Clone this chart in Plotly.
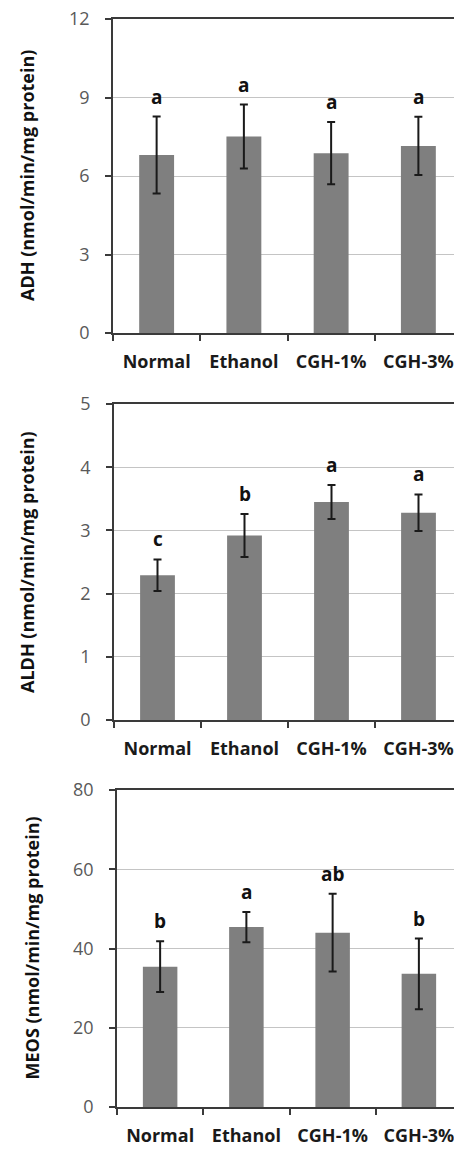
import plotly.graph_objects as go

categories = ["Normal", "Ethanol", "CGH-1%", "CGH-3%"]

adh_mean = [6.80, 7.51, 6.87, 7.15]
adh_err = [1.47, 1.22, 1.19, 1.11]
adh_letters = ["a", "a", "a", "a"]

aldh_mean = [2.29, 2.92, 3.45, 3.28]
aldh_err = [0.25, 0.34, 0.27, 0.29]
aldh_letters = ["c", "b", "a", "a"]

meos_mean = [35.4, 45.4, 44.0, 33.6]
meos_err = [6.4, 3.8, 9.8, 8.9]
meos_letters = ["b", "a", "ab", "b"]

panels = [
    dict(mean=adh_mean, err=adh_err, letters=adh_letters,
         title="ADH (nmol/min/mg protein)", rng=[0, 12],
         tickvals=[0, 3, 6, 9, 12]),
    dict(mean=aldh_mean, err=aldh_err, letters=aldh_letters,
         title="ALDH (nmol/min/mg protein)", rng=[0, 5],
         tickvals=[0, 1, 2, 3, 4, 5]),
    dict(mean=meos_mean, err=meos_err, letters=meos_letters,
         title="MEOS (nmol/min/mg protein)", rng=[0, 80],
         tickvals=[0, 20, 40, 60, 80]),
]

# page body has an 8px margin: figure is drawn 8px in from top-left
OFF = 8
W, H = 462 - OFF, 1151 - OFF
# pixel layout on the page (left, top, bottom) for each panel
px_layout = [(113, 19, 333), (114, 404, 720), (117, 790, 1107)]
title_x = [27, 27, 31]

FONT = "Open Sans"
fig = go.Figure()
annotations = []
shapes = []

for i, (p, (left, top, bottom)) in enumerate(zip(panels, px_layout)):
    n = i + 1
    xa = "x" if n == 1 else f"x{n}"
    ya = "y" if n == 1 else f"y{n}"
    fig.add_trace(go.Bar(
        x=categories, y=p["mean"], xaxis=xa, yaxis=ya,
        width=0.4, marker=dict(color="#7f7f7f", line=dict(width=0)),
        error_y=dict(type="data", array=p["err"], visible=True,
                     color="#1a1a1a", thickness=2, width=4),
        showlegend=False, hoverinfo="skip",
    ))
    xdom = [(left - OFF) / W, 1.0]
    ydom = [1 - (bottom - OFF) / H, 1 - (top - OFF) / H]
    fig.layout[f"xaxis{'' if n == 1 else n}"] = dict(
        domain=xdom, anchor=ya, type="category", range=[-0.5, 3.5],
        showline=True, linecolor="#3a3a3a", linewidth=1.5, mirror=True,
        ticks="outside", tickson="boundaries", ticklen=6, tickcolor="#3a3a3a",
        tickwidth=1.5, showgrid=False, ticklabelstandoff=12, automargin=False,
        ticklabeloverflow="allow",
        tickfont=dict(family=FONT, size=18, color="#1a1a1a", weight="bold"),
        fixedrange=True,
    )
    fig.layout[f"yaxis{'' if n == 1 else n}"] = dict(
        domain=ydom, anchor=xa, range=p["rng"], tickvals=p["tickvals"],
        showline=True, linecolor="#3a3a3a", linewidth=1.5,
        ticks="outside", ticklen=6, tickcolor="#3a3a3a", tickwidth=1.5,
        showgrid=True, gridcolor="#c4c4c4", gridwidth=1, zeroline=False,
        ticklabelstandoff=12, automargin=False, ticklabeloverflow="allow",
        tickfont=dict(family=FONT, size=18, color="#595959"),
        fixedrange=True,
    )
    # right border of plot area (light)
    shapes.append(dict(type="line", xref=f"{xa} domain", yref=f"{ya} domain",
                       x0=0.997, x1=0.997, y0=0, y1=1,
                       line=dict(color="#b0b0b0", width=1.5)))
    # significance letters
    for c, m, e, t in zip(categories, p["mean"], p["err"], p["letters"]):
        annotations.append(dict(
            x=c, y=m + e, xref=xa, yref=ya, text=f"<b>{t}</b>",
            showarrow=False, yanchor="bottom", yshift=5,
            font=dict(family=FONT, size=19, color="#111111"),
        ))
    # y axis title
    annotations.append(dict(
        x=(title_x[i] - OFF) / W, y=(ydom[0] + ydom[1]) / 2,
        xref="paper", yref="paper",
        text=f"<b>{p['title']}</b>", textangle=-90, showarrow=False,
        xanchor="center", yanchor="middle",
        font=dict(family=FONT, size=18, color="#111111"),
    ))

fig.update_layout(
    width=W, height=H, margin=dict(l=0, r=0, t=0, b=0, autoexpand=False),
    paper_bgcolor="white", plot_bgcolor="white",
    annotations=annotations, shapes=shapes, bargap=0.6,
)

fig.write_html("out.html")
